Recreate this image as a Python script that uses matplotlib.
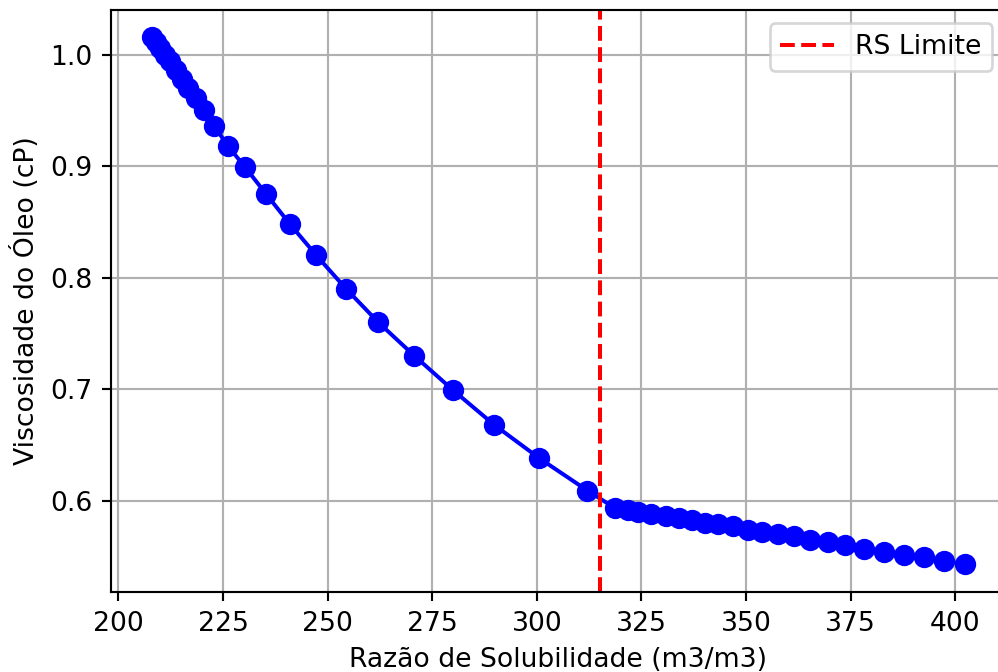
import matplotlib
matplotlib.use("Agg")
import matplotlib.pyplot as plt

# Razão de solubilidade (m3/m3) e viscosidade do óleo (cP)
rs = [208.0, 209.0, 209.9, 211.1, 212.3, 213.8, 215.2, 216.7, 218.6, 220.5,
      222.9, 226.2, 230.3, 235.3, 241.0, 247.3, 254.4, 262.1, 270.7, 280.0,
      289.8, 300.6, 312.1,
      318.8, 321.7, 324.1, 327.2, 330.8, 333.9, 337.0, 340.1, 343.2, 346.8,
      350.4, 353.7, 357.6, 361.4, 365.2, 369.5, 373.6, 378.1, 382.9, 387.7,
      392.5, 397.2, 402.3]
mu_o = [1.016, 1.011, 1.006, 1.000, 0.994, 0.986, 0.978, 0.970, 0.961, 0.950,
        0.936, 0.918, 0.899, 0.875, 0.848, 0.820, 0.790, 0.760, 0.730, 0.699,
        0.668, 0.638, 0.609,
        0.593, 0.592, 0.590, 0.588, 0.586, 0.584, 0.583, 0.580, 0.579, 0.577,
        0.574, 0.572, 0.570, 0.568, 0.565, 0.563, 0.560, 0.557, 0.554, 0.551,
        0.549, 0.546, 0.543]
rs_limite = 315.0

dpi = 192
fig = plt.figure(figsize=(998 / dpi, 672 / dpi), dpi=dpi)
# the right edge of the axes runs slightly past the image, as in the original crop
ax = fig.add_axes([0.1115, 0.119, 0.896, 0.866])

ax.plot(rs, mu_o, "o-", color="blue", markersize=7, linewidth=1.5)
ax.axvline(rs_limite, color="red", linestyle="--", linewidth=1.5, label="RS Limite")

ax.set_xlim(198.3, 412.0)
ax.set_ylim(0.518, 1.040)
ax.set_xlabel("Razão de Solubilidade (m3/m3)")
ax.set_ylabel("Viscosidade do Óleo (cP)")
ax.grid(True)
ax.legend(loc="upper right")

fig.savefig("out.png", dpi=dpi)
